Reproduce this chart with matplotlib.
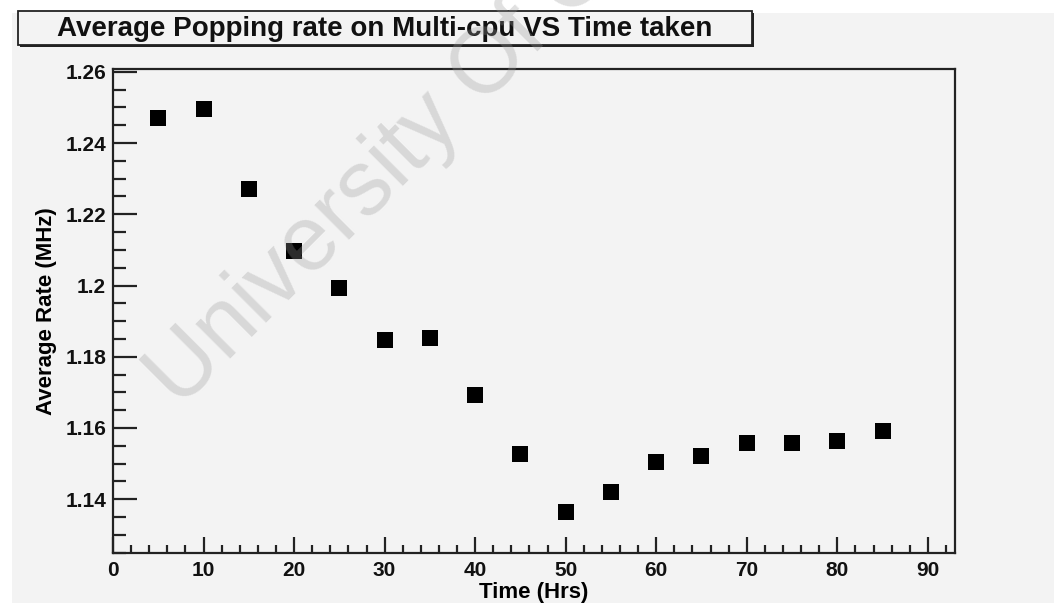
import matplotlib
matplotlib.use("Agg")
import matplotlib.pyplot as plt
from matplotlib.patches import Rectangle
from matplotlib.ticker import MultipleLocator, FuncFormatter

# measurements, one per 5 hour run
hours = [5, 10, 15, 20, 25, 30, 35, 40, 45, 50, 55, 60, 65, 70, 75, 80, 85]
rate_mhz = [1.2470, 1.2496, 1.2271, 1.2098, 1.1993, 1.1847, 1.1852, 1.1693,
            1.1527, 1.1364, 1.1421, 1.1504, 1.1522, 1.1557, 1.1557, 1.1564,
            1.1592]

title = "Average Popping rate on Multi-cpu VS Time taken"
x_label = "Time (Hrs)"
y_label = "Average Rate (MHz)"

W, H = 1054, 608
BG = "#f3f3f3"
plt.rcParams["font.family"] = ["Liberation Sans", "DejaVu Sans"]

fig = plt.figure(figsize=(W / 100, H / 100), dpi=100)
fig.patch.set_facecolor("white")


def px(x0, y0, x1, y1):
    """pixel box (top-left origin) -> figure fraction rect"""
    return (x0 / W, 1 - y1 / H, (x1 - x0) / W, (y1 - y0) / H)


def fig_rect(box, **kw):
    l, b, w, h = px(*box)
    return Rectangle((l, b), w, h, transform=fig.transFigure, **kw)


# canvas background
fig.patches.append(fig_rect((12, 13, W, 603), facecolor=BG,
                            edgecolor="none", zorder=-5))

ax = fig.add_axes(px(113, 69, 955, 553))
ax.set_facecolor(BG)

ax.plot(hours, rate_mhz, linestyle="none", marker="s", markersize=11.5,
        color="black", markeredgewidth=0)

ax.set_xlim(0, 93)
ax.set_ylim(1.1249, 1.2608)

ax.xaxis.set_major_locator(MultipleLocator(10))
ax.xaxis.set_minor_locator(MultipleLocator(2))
ax.yaxis.set_major_locator(MultipleLocator(0.02))
ax.yaxis.set_minor_locator(MultipleLocator(0.005))
ax.yaxis.set_major_formatter(FuncFormatter(lambda v, _: f"{v:g}"))

ax.tick_params(axis="both", which="both", direction="in", width=1.6,
               color="#222222", top=False, right=False)
ax.tick_params(axis="x", which="major", length=11.5, pad=6)
ax.tick_params(axis="x", which="minor", length=5.5)
ax.tick_params(axis="y", which="major", length=17, pad=5)
ax.tick_params(axis="y", which="minor", length=9)
for lab in ax.get_xticklabels() + ax.get_yticklabels():
    lab.set_fontsize(15)
    lab.set_fontweight("bold")
    lab.set_color("#111111")

for side in ["left", "bottom", "top", "right"]:
    ax.spines[side].set_linewidth(1.6)
    ax.spines[side].set_color("#222222")

ax.set_xlabel(x_label, fontsize=16, fontweight="bold", labelpad=1)
ax.set_ylabel(y_label, fontsize=16, fontweight="bold", labelpad=6)

# title box with a small drop shadow
fig.patches.append(fig_rect((20, 13, 754, 47), facecolor="#222222",
                            edgecolor="none", zorder=5))
fig.patches.append(fig_rect((18, 11, 752, 45), facecolor=BG,
                            edgecolor="#222222", linewidth=1.3, zorder=6))
fig.text(385 / W, 1 - 28.5 / H, title, ha="center", va="center",
         fontsize=20, fontweight="bold", color="#111111", zorder=7)

# faint diagonal watermark
fig.text(180 / W, 1 - 410 / H, "University Of Cape Town", rotation=45,
         rotation_mode="anchor", ha="left", va="baseline", fontsize=66,
         color="#9a9a9a", alpha=0.3, zorder=10)

fig.savefig("out.png", dpi=100, facecolor=fig.get_facecolor())
